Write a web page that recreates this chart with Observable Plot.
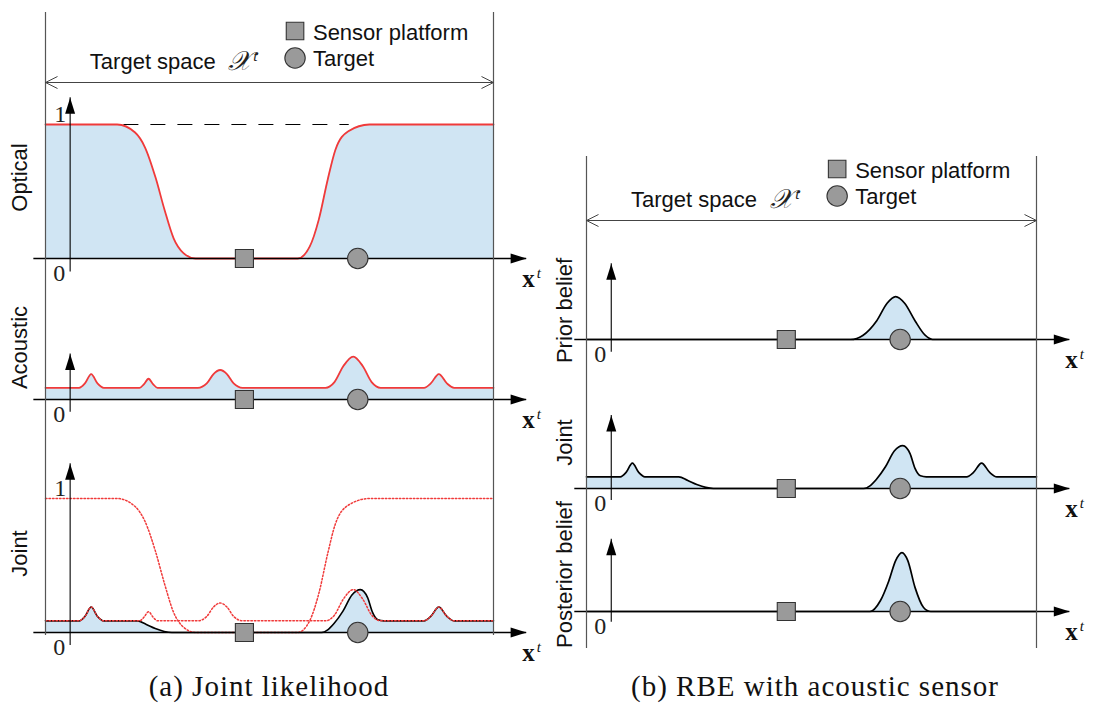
<!DOCTYPE html>
<html><head><meta charset="utf-8">
<script src="https://cdn.jsdelivr.net/npm/d3@7"></script>
<script src="https://cdn.jsdelivr.net/npm/@observablehq/plot@0.6"></script>
<style>
body{margin:0;background:#fff;}
#fig{position:relative;width:1094px;height:711px;background:#fff;overflow:hidden;}
#fig svg{position:absolute;overflow:visible;}
.cap{position:absolute;top:672px;font-family:'Liberation Serif','Times New Roman',serif;font-size:29px;line-height:29px;letter-spacing:1px;white-space:nowrap;transform:translateX(-50%);color:#111;}
</style></head><body><div id="fig"></div>
<script>
// ---------- data (x: position in target space, 0 = left boundary, 100 = right boundary) ----------
const opticalX = [0, 16, 20, 22.2, 24.6, 26.6, 28.6, 30.8, 33.5, 56.3, 59, 61, 63, 64.7, 67.6, 72.3, 100];
const opticalY = [1, 1, 0.94, 0.83, 0.6, 0.36, 0.15, 0.04, 0, 0, 0.09, 0.29, 0.59, 0.81, 0.95, 1, 1];

const acousticX = [0, 7.5, 8.8, 10.2, 11.6, 13, 21, 22, 23, 24, 25, 34, 36, 37.5, 39, 40.5, 42, 44,
  62.5, 64.5, 66.5, 68.7, 70.8, 72.8, 74.8, 84.5, 86, 87.8, 89.6, 91.2, 100];
const acousticY = [0.087, 0.087, 0.12, 0.19, 0.12, 0.087, 0.087, 0.115, 0.155, 0.115, 0.087, 0.087, 0.12, 0.19, 0.22, 0.19, 0.12, 0.087,
  0.087, 0.13, 0.25, 0.32, 0.25, 0.13, 0.087, 0.087, 0.12, 0.19, 0.12, 0.087, 0.087];

const jointX = [0, 7.5, 8.8, 10.2, 11.6, 13, 20.5, 22.5, 24.5, 26.5, 28.2, 61.6, 63, 64.4, 66.4, 68.4, 70.3, 71.9, 73, 74.2, 75.5,
  84.5, 86, 87.8, 89.6, 91.2, 100];
const jointY = [0.087, 0.087, 0.12, 0.19, 0.12, 0.087, 0.087, 0.06, 0.03, 0.008, 0, 0, 0.02, 0.067, 0.16, 0.28, 0.32, 0.26, 0.15, 0.095, 0.087,
  0.087, 0.12, 0.19, 0.12, 0.087, 0.087];

const priorX = [0, 58.7, 61.4, 64.5, 66.8, 68.7, 70.7, 73, 75.3, 76.9, 100];
const priorY = [0, 0, 0.03, 0.14, 0.27, 0.32, 0.27, 0.14, 0.03, 0, 0];

const posteriorX = [0, 63, 65.3, 67.2, 68.7, 70.1, 71.4, 73, 74.9, 76.5, 100];
const posteriorY = [0, 0, 0.08, 0.23, 0.38, 0.44, 0.38, 0.18, 0.03, 0, 0];

const sensorX = [44.4];
const targetX = [69.7];
const opticalMaxGuide = [17.5, 67.8];   // dashed guide at likelihood 1

const panelLabelsA = ["Optical", "Acoustic", "Joint"];
const panelLabelsB = ["Prior belief", "Joint", "Posterior belief"];
const legendLabels = ["Sensor platform", "Target"];
const captions = ["(a) Joint likelihood", "(b) RBE with acoustic sensor"];

// ---------- styling / layout ----------
const SANS = "'Liberation Sans', Arial, Helvetica, sans-serif";
const SERIF = "'Liberation Serif', 'Times New Roman', serif";
const BLUE = "#d0e5f3";
const RED = "#f03a3a";
const GRAY = "#9a9a9a";
const PX_PER_UNIT = 134;
const AXIS_START = -2.6, AXIS_END = 107.4, Y_AXIS_X = 5.5;
const CURVE = "monotone-x";

const panels = {
  a: {left: 0, width: 550, xLeft: 45, xRight: 493, spanY: 82, boundTop: 12, boundBottom: 635, labelX: -5.8},
  b: {left: 550, width: 544, xLeft: 586, xRight: 1036, spanY: 220, boundTop: 156, boundBottom: 648, labelX: -4.7}
};

const pts = (xs, ys) => xs.map((x, i) => ({x, y: ys[i]}));
const optical = pts(opticalX, opticalY);
const acoustic = pts(acousticX, acousticY);
const joint = pts(jointX, jointY);
const prior = pts(priorX, priorY);
const posterior = pts(posteriorX, posteriorY);

// arrowhead symbols (tip at the anchor point)
const triRight = {draw(c) { c.moveTo(-16, -5); c.lineTo(0, 0); c.lineTo(-16, 5); c.closePath(); }};
const triUp = {draw(c) { c.moveTo(-5, 16); c.lineTo(0, 0); c.lineTo(5, 16); c.closePath(); }};
const chevLeft = {draw(c) { c.moveTo(12, -6); c.lineTo(0, 0); c.lineTo(12, 6); }};
const chevRight = {draw(c) { c.moveTo(-12, -6); c.lineTo(0, 0); c.lineTo(-12, 6); }};

const fig = document.getElementById("fig");

function axisMarks(yTop, yBottom, showOne) {
  const m = [
    Plot.ruleY([0], {x1: AXIS_START, x2: AXIS_END, stroke: "black", strokeWidth: 1.3}),
    Plot.dot([AXIS_END], {x: d => d, y: 0, symbol: triRight, fill: "black", stroke: "none"}),
    Plot.ruleX([Y_AXIS_X], {y1: yBottom, y2: yTop, stroke: "black", strokeWidth: 1.1}),
    Plot.dot([Y_AXIS_X], {x: d => d, y: yTop, symbol: triUp, fill: "black", stroke: "none"}),
    Plot.text(["0"], {x: Y_AXIS_X, y: 0, text: d => d, dx: -5, dy: 22, lineAnchor: "bottom", textAnchor: "end", fontFamily: SERIF, fontSize: 24, fill: "#222"}),
    Plot.text(["x"], {x: AXIS_END, y: 0, text: d => d, dx: -4.5, dy: 28, lineAnchor: "bottom", textAnchor: "start", fontFamily: SERIF, fontWeight: "bold", fontSize: 25, fill: "#111"}),
    Plot.text(["t"], {x: AXIS_END, y: 0, text: d => d, dx: 10, dy: 19, lineAnchor: "bottom", textAnchor: "start", fontFamily: SERIF, fontStyle: "italic", fontSize: 15, fill: "#111"})
  ];
  if (showOne) m.push(Plot.text(["1"], {x: Y_AXIS_X, y: 1, text: d => d, dx: -4, dy: -3, lineAnchor: "bottom", textAnchor: "end", fontFamily: SERIF, fontSize: 24, fill: "#222"}));
  return m;
}
function objectMarks() {
  return [
    Plot.dot(sensorX, {x: d => d, y: 0, symbol: "square", r: 10.2, fill: GRAY, stroke: "#333", strokeWidth: 1.1}),
    Plot.dot(targetX, {x: d => d, y: 0, symbol: "circle", r: 10.2, fill: GRAY, stroke: "#333", strokeWidth: 1.1})
  ];
}

function subplot({panel, top, height, y0px, domainMax, marks}) {
  const P = panels[panel];
  const inner = PX_PER_UNIT * domainMax;
  const svg = Plot.plot({
    width: P.width, height,
    marginLeft: P.xLeft - P.left, marginRight: P.left + P.width - P.xRight,
    marginTop: y0px - inner - top, marginBottom: top + height - y0px,
    x: {domain: [0, 100], axis: null},
    y: {domain: [0, domainMax], axis: null},
    style: {background: "transparent", overflow: "visible"},
    marks
  });
  svg.style.left = P.left + "px";
  svg.style.top = top + "px";
  fig.appendChild(svg);
}

// ----- panel (a) -----
subplot({panel: "a", top: 88, height: 200, y0px: 258, domainMax: 1, marks: [
  Plot.areaY(optical, {x: "x", y: "y", fill: BLUE, curve: CURVE}),
  Plot.ruleY([1], {x1: opticalMaxGuide[0], x2: opticalMaxGuide[1], stroke: "black", strokeWidth: 1, strokeDasharray: "15,12"}),
  Plot.line(optical, {x: "x", y: "y", stroke: RED, strokeWidth: 1.8, curve: CURVE}),
  ...axisMarks(1.2, -0.1, true),
  ...objectMarks()
]});
subplot({panel: "a", top: 300, height: 130, y0px: 399, domainMax: 0.5, marks: [
  Plot.areaY(acoustic, {x: "x", y: "y", fill: BLUE, curve: CURVE}),
  Plot.line(acoustic, {x: "x", y: "y", stroke: RED, strokeWidth: 1.8, curve: CURVE}),
  ...axisMarks(0.34, -0.095, false),
  ...objectMarks()
]});
subplot({panel: "a", top: 440, height: 222, y0px: 632, domainMax: 1, marks: [
  Plot.areaY(joint, {x: "x", y: "y", fill: BLUE, curve: CURVE}),
  Plot.line(joint, {x: "x", y: "y", stroke: "black", strokeWidth: 1.6, curve: CURVE}),
  Plot.line(optical, {x: "x", y: "y", stroke: RED, strokeWidth: 1.5, strokeDasharray: "1.5,2", curve: CURVE}),
  Plot.line(acoustic, {x: "x", y: "y", stroke: RED, strokeWidth: 1.5, strokeDasharray: "1.5,2", curve: CURVE}),
  ...axisMarks(1.26, -0.097, true),
  ...objectMarks()
]});

// ----- panel (b) -----
subplot({panel: "b", top: 250, height: 119, y0px: 339, domainMax: 0.5, marks: [
  Plot.areaY(prior, {x: "x", y: "y", fill: BLUE, curve: CURVE}),
  ...axisMarks(0.565, -0.095, false),
  Plot.line(prior, {x: "x", y: "y", stroke: "black", strokeWidth: 1.7, curve: CURVE}),
  ...objectMarks()
]});
subplot({panel: "b", top: 400, height: 118, y0px: 488, domainMax: 0.5, marks: [
  Plot.areaY(joint, {x: "x", y: "y", fill: BLUE, curve: CURVE}),
  ...axisMarks(0.545, -0.09, false),
  Plot.line(joint, {x: "x", y: "y", stroke: "black", strokeWidth: 1.7, curve: CURVE}),
  ...objectMarks()
]});
subplot({panel: "b", top: 525, height: 126, y0px: 611, domainMax: 0.5, marks: [
  Plot.areaY(posterior, {x: "x", y: "y", fill: BLUE, curve: CURVE}),
  ...axisMarks(0.54, -0.08, false),
  Plot.line(posterior, {x: "x", y: "y", stroke: "black", strokeWidth: 1.7, curve: CURVE}),
  ...objectMarks()
]});

// ----- frames: boundaries, target-space span, legend, panel labels -----
function frame(panel, labels, labelCenters) {
  const P = panels[panel];
  const s = P.spanY;
  const svg = Plot.plot({
    width: P.width, height: 711,
    marginLeft: P.xLeft - P.left, marginRight: P.left + P.width - P.xRight,
    marginTop: 0, marginBottom: 0,
    x: {domain: [0, 100], axis: null},
    y: {domain: [0, 711], reverse: true, axis: null},
    style: {background: "transparent", overflow: "visible"},
    marks: [
      Plot.ruleX([0, 100], {y1: P.boundTop, y2: P.boundBottom, stroke: "#555", strokeWidth: 1.2}),
      Plot.ruleY([s], {x1: 0, x2: 100, stroke: "#444", strokeWidth: 1}),
      Plot.dot([0], {x: d => d, y: s, symbol: chevLeft, stroke: "#444", fill: "none", strokeWidth: 1}),
      Plot.dot([100], {x: d => d, y: s, symbol: chevRight, stroke: "#444", fill: "none", strokeWidth: 1}),
      Plot.text(["Target space"], {x: 9.9, y: s - 14, text: d => d, textAnchor: "start", lineAnchor: "bottom", fontFamily: SANS, fontSize: 22, fill: "#111"}),
      Plot.text(["𝒳"], {x: 40.8, y: s - 13, text: d => d, textAnchor: "start", lineAnchor: "bottom", fontFamily: "'DejaVu Serif', 'DejaVu Sans', serif", fontStyle: "italic", fontSize: 27, fill: "#222"}),
      Plot.text(["t"], {x: 46.4, y: s - 22, text: d => d, textAnchor: "start", lineAnchor: "bottom", fontFamily: SERIF, fontStyle: "italic", fontSize: 15, fill: "#222"}),
      Plot.dot([legendLabels[0]], {x: 55.7, y: s - 51.5, symbol: "square", r: 9.9, fill: GRAY, stroke: "#333", strokeWidth: 1.1}),
      Plot.dot([legendLabels[1]], {x: 55.7, y: s - 24.5, symbol: "circle", r: 10.2, fill: GRAY, stroke: "#333", strokeWidth: 1.1}),
      Plot.text([legendLabels[0]], {x: 59.7, y: s - 43, text: d => d, textAnchor: "start", lineAnchor: "bottom", fontFamily: SANS, fontSize: 22, fill: "#111"}),
      Plot.text([legendLabels[1]], {x: 59.7, y: s - 17, text: d => d, textAnchor: "start", lineAnchor: "bottom", fontFamily: SANS, fontSize: 22, fill: "#111"}),
      Plot.text(labels, {x: P.labelX, y: (d, i) => labelCenters[i], text: d => d, rotate: -90, textAnchor: "middle", lineAnchor: "middle", fontFamily: SANS, fontSize: 22, fill: "#111"})
    ]
  });
  svg.style.left = P.left + "px";
  svg.style.top = "0px";
  fig.appendChild(svg);
}
frame("a", panelLabelsA, [177, 347, 553]);
frame("b", panelLabelsB, [310, 442, 574]);

// captions
[[captions[0], 269], [captions[1], 815]].forEach(([t, cx]) => {
  const d = document.createElement("div");
  d.className = "cap";
  d.style.left = cx + "px";
  d.textContent = t;
  fig.appendChild(d);
});
</script></body></html>
